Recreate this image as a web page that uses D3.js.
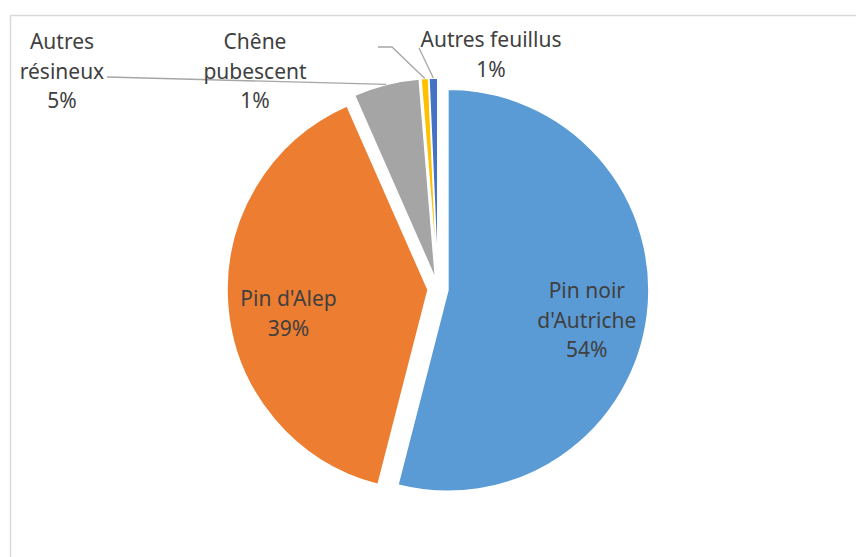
<!DOCTYPE html>
<html>
<head>
<meta charset="utf-8">
<title>Répartition des essences</title>
<script src="https://cdn.jsdelivr.net/npm/d3@7"></script>
<style>
  body { margin: 0; background: #fff; }
  svg text { font-family: "Noto Sans", sans-serif; font-size: 21px; fill: #404040; }
</style>
</head>
<body>
<svg id="chart"></svg>
<script>
// data (share of each species, %)
const categories = ["Pin noir\nd'Autriche", "Pin d'Alep", "Autres\nrésineux", "Chêne\npubescent", "Autres feuillus"];
const values = [54.0, 39.4, 5.3, 0.6, 0.7];
const colors = ["#5B9BD5", "#ED7D31", "#A5A5A5", "#FFC000", "#4472C4"];

const width = 856, height = 557;
const cx = 438, cy = 289, radius = 201, explode = 10;
const lineH = 29.5;

const svg = d3.select("#chart").attr("width", width).attr("height", height);

// chart area border
svg.append("rect")
  .attr("x", 10.5).attr("y", 15.5)
  .attr("width", 870).attr("height", 570)
  .attr("fill", "none").attr("stroke", "#d9d9d9").attr("stroke-width", 1.5);

const total = d3.sum(values);
const pie = d3.pie().sort(null).value(d => d)(values);
const arc = d3.arc().innerRadius(0).outerRadius(radius);

function mid(d) { return (d.startAngle + d.endAngle) / 2; }
function offset(d, r) {
  const a = mid(d);
  return [r * Math.sin(a), -r * Math.cos(a)];
}

const g = svg.append("g").attr("transform", `translate(${cx},${cy})`);

g.selectAll("path.slice")
  .data(pie)
  .enter().append("path")
  .attr("class", "slice")
  .attr("d", arc)
  .attr("transform", d => `translate(${offset(d, explode)})`)
  .attr("fill", (d, i) => colors[i])
  .attr("stroke", "#fff")
  .attr("stroke-width", 1.5);

function pct(v) { return Math.round(v / total * 100) + "%"; }

function writeLabel(x, y, i) {
  const lines = categories[i].split("\n").concat([pct(values[i])]);
  const t = svg.append("text").attr("text-anchor", "middle");
  lines.forEach((s, k) => {
    t.append("tspan").attr("x", x).attr("y", y + k * lineH).text(s);
  });
}

// labels inside the two large slices
const labelR = 140;
[0, 1].forEach(i => {
  const d = pie[i];
  const o = offset(d, explode + labelR);
  const n = categories[i].split("\n").length + 1;
  const yc = cy + o[1] + 13;
  writeLabel(cx + o[0], yc - (n - 1) * lineH / 2 + 7, i);
});

// outside labels with leader lines
const outside = [
  { i: 2, x: 62,  y: 49, from: [[107, 77]] },
  { i: 3, x: 255, y: 49, from: [[378, 47], [392, 47]] },
  { i: 4, x: 491, y: 47, from: [[419, 48]] }
];

outside.forEach(o => {
  const d = pie[o.i];
  const e = offset(d, radius + explode);
  const pts = o.from.concat([[cx + e[0], cy + e[1]]]);
  svg.append("path")
    .attr("d", d3.line()(pts))
    .attr("fill", "none")
    .attr("stroke", "#a6a6a6")
    .attr("stroke-width", 1.3);
  writeLabel(o.x, o.y, o.i);
});
</script>
</body>
</html>
